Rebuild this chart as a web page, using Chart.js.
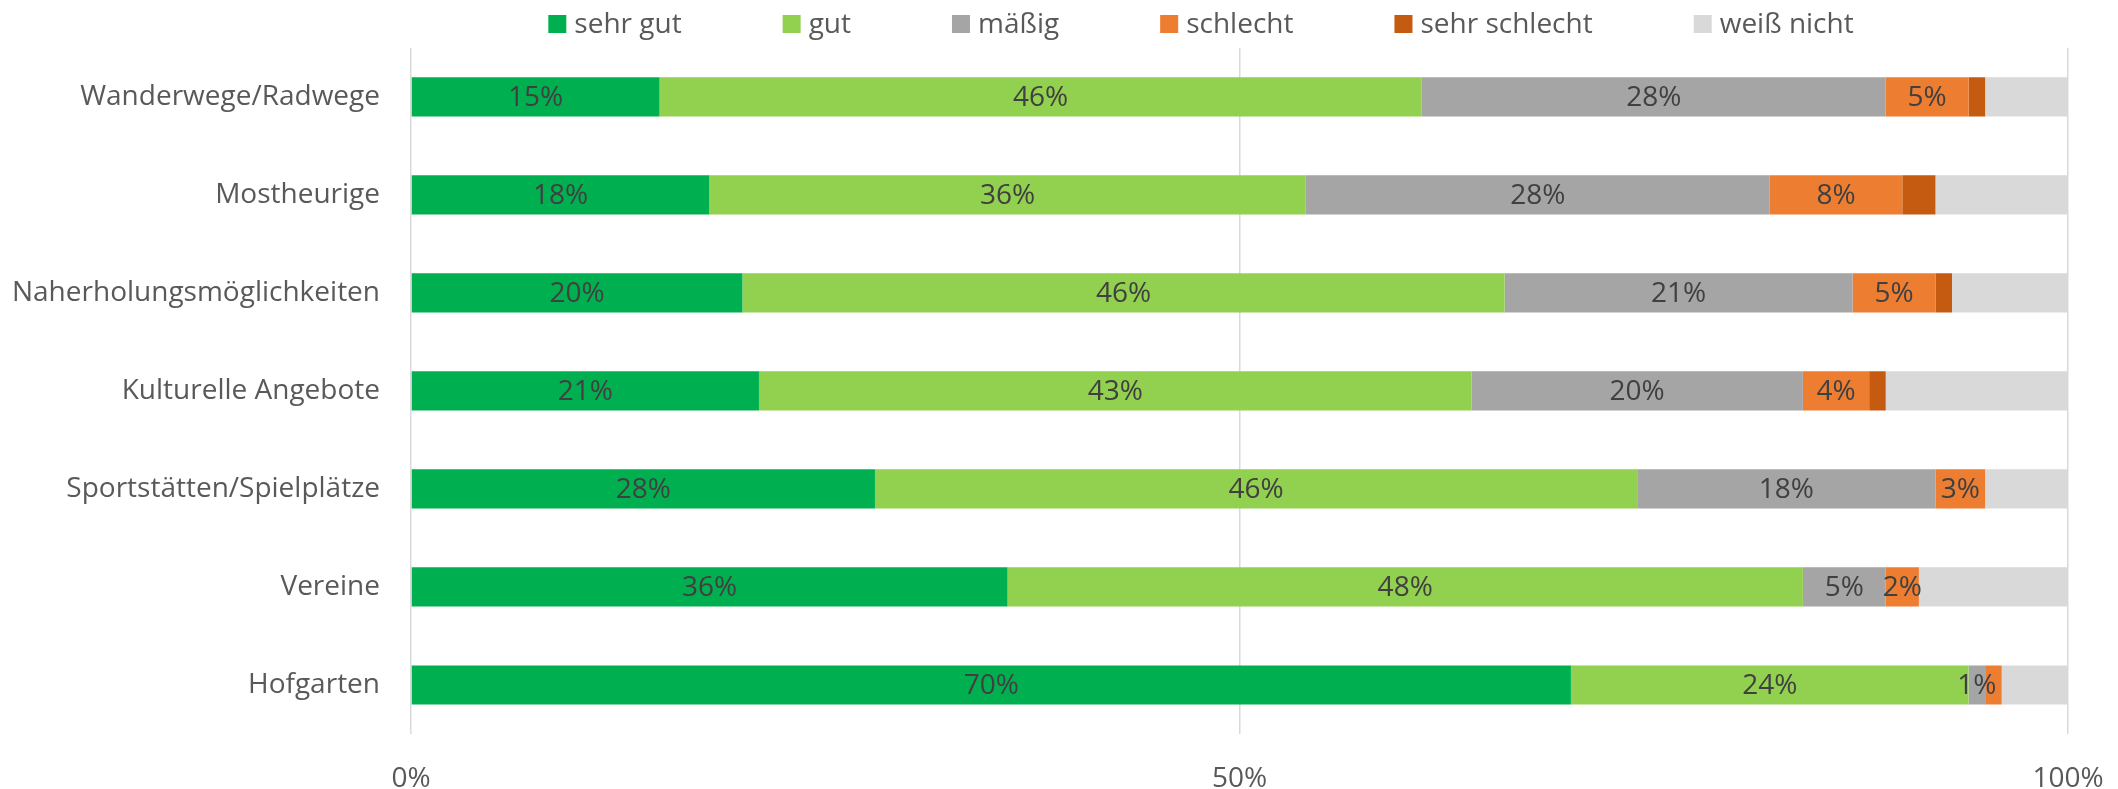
<!DOCTYPE html>
<html>
<head>
<meta charset="utf-8">
<script src="https://cdn.jsdelivr.net/npm/chart.js@4"></script>
<style>
  html, body { margin:0; padding:0; background:#fff; }
  #wrap { width:2118px; height:789px; }
</style>
</head>
<body>
<div id="wrap"><canvas id="ch" width="2118" height="789"></canvas></div>
<script>
// data
const categories = ['Wanderwege/Radwege','Mostheurige','Naherholungsmöglichkeiten','Kulturelle Angebote','Sportstätten/Spielplätze','Vereine','Hofgarten'];
const seriesNames = ['sehr gut','gut','mäßig','schlecht','sehr schlecht','weiß nicht'];
const sehrGut      = [15, 18, 20, 21, 28, 36, 70];
const gut          = [46, 36, 46, 43, 46, 48, 24];
const maessig      = [28, 28, 21, 20, 18,  5,  1];
const schlecht     = [ 5,  8,  5,  4,  3,  2,  1];
const sehrSchlecht = [ 1,  2,  1,  1,  0,  0,  0];
const weissNicht   = [ 5,  8,  7, 11,  5,  9,  4];
const xTicks = [0, 50, 100];

const colors = ['#00b050','#92d050','#a5a5a5','#ed7d31','#c55a11','#d9d9d9'];
const series = [sehrGut, gut, maessig, schlecht, sehrSchlecht, weissNicht];
const FONT = '28px "Open Sans"';

Chart.defaults.font.family = '"Open Sans", sans-serif';
Chart.defaults.font.size = 28;
Chart.defaults.color = '#595959';

// legend row drawn on the canvas (Excel-like wide spacing)
const legendRow = {
  id: 'legendRow',
  afterDraw(chart){
    const ctx = chart.ctx;
    ctx.save();
    ctx.font = FONT;
    ctx.textBaseline = 'middle';
    const box = 18, gapTxt = 8, gapItem = 101;
    const items = chart.data.datasets.map(d => ({label:d.label, color:d.backgroundColor, w: box + gapTxt + ctx.measureText(d.label).width}));
    const total = items.reduce((s, it) => s + it.w, 0) + gapItem * (items.length - 1);
    let x = 1201 - total / 2;
    const y = 24;
    items.forEach(it => {
      ctx.fillStyle = it.color;
      ctx.fillRect(x, y - box / 2, box, box);
      ctx.fillStyle = '#595959';
      ctx.fillText(it.label, x + box + gapTxt, y + 1);
      x += it.w + gapItem;
    });
    ctx.restore();
  }
};

// value labels inside the segments
const barLabels = {
  id: 'barLabels',
  afterDatasetsDraw(chart){
    const ctx = chart.ctx;
    ctx.save();
    ctx.font = FONT;
    ctx.fillStyle = '#404040';
    ctx.textAlign = 'center';
    ctx.textBaseline = 'middle';
    chart.data.datasets.forEach((ds, i) => {
      if (i > 3) return;
      chart.getDatasetMeta(i).data.forEach((bar, j) => {
        const v = ds.data[j];
        if (!v || (i === 3 && v < 2)) return;
        const p = bar.getCenterPoint();
        ctx.fillText(v + '%', p.x, p.y + 1);
      });
    });
    ctx.restore();
  }
};

new Chart(document.getElementById('ch'), {
  type: 'bar',
  data: {
    labels: categories,
    datasets: seriesNames.map((name, i) => ({
      label: name, data: series[i], backgroundColor: colors[i],
      borderWidth: 0, barPercentage: 0.4, categoryPercentage: 1
    }))
  },
  options: {
    indexAxis: 'y',
    responsive: false,
    animation: false,
    layout: { padding: { top: 44, right: 50, left: 0, bottom: 0 } },
    plugins: { legend: { display: false }, tooltip: { enabled: false } },
    scales: {
      x: {
        stacked: true, min: 0, max: 100,
        afterBuildTicks: s => { s.ticks = xTicks.map(v => ({ value: v })); },
        afterFit: s => { s.height = 55; s.paddingLeft = 0; s.paddingRight = 0; },
        ticks: { callback: v => v + '%', padding: 28, color: '#595959' },
        grid: { color: '#d9d9d9', lineWidth: 1.5, drawTicks: false },
        border: { display: false }
      },
      y: {
        stacked: true,
        afterFit: s => { s.width = 411; },
        ticks: { padding: 31, color: '#595959' },
        grid: { display: false, drawTicks: false },
        border: { display: false }
      }
    }
  },
  plugins: [legendRow, barLabels]
});
</script>
</body>
</html>
